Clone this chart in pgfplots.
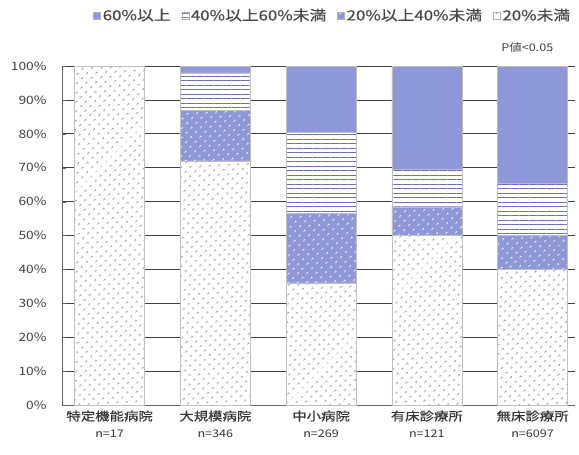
\documentclass[border=0pt]{standalone}
\usepackage{pgfplots}
\pgfplotsset{compat=1.18}
\usetikzlibrary{patterns.meta}
\usepackage{fontspec}
\setmainfont{Noto Sans CJK JP}[FakeStretch=1.2]
\newfontfamily\boldish{Noto Sans CJK JP}[FakeStretch=1.2, FakeBold=0.5]
\definecolor{barblue}{HTML}{8E98D6}
\definecolor{linblue}{HTML}{6770B8}
\begin{document}
\begin{tikzpicture}
\begin{axis}[
  scale only axis, width=513pt, height=339pt,
  ybar stacked, bar width=70pt,
  xmin=-0.45, xmax=4.4, ymin=0, ymax=100,
  xtick=data,
  xticklabels={{特定機能病院\\{\normalfont\fontsize{10.5}{12}\selectfont n=17}},{大規模病院\\{\normalfont\fontsize{10.5}{12}\selectfont n=346}},{中小病院\\{\normalfont\fontsize{10.5}{12}\selectfont n=269}},{有床診療所\\{\normalfont\fontsize{10.5}{12}\selectfont n=121}},{無床診療所\\{\normalfont\fontsize{10.5}{12}\selectfont n=6097}}},
  xticklabel style={align=center, font=\boldish\fontsize{12}{17}\selectfont, text=black!80, yshift=-2pt},
  x tick style={draw=none},
  ytick={0,10,...,100},
  yticklabel={\pgfmathprintnumber{\tick}\%},
  /pgf/number format/assume math mode=true,
  yticklabel style={font=\fontsize{11.5}{12}\selectfont, text=black!75, xshift=-12pt},
  axis x line*=bottom, axis y line*=left,
  axis line style={black!60, line width=0.8pt, -},
  ymajorgrids, major grid style={black!75, line width=0.9pt},
  y tick style={black!60},
  reverse legend,
  legend columns=4,
  legend style={at={(0.055,1.15)}, anchor=west, draw=none, fill=none,
    font=\boldish\fontsize{14}{16}\selectfont, text=black!72,
    /tikz/every even column/.append style={column sep=9pt}},
  legend image code/.code={\draw[#1, draw=black!30] (0pt,-3.5pt) rectangle (7pt,3.5pt);},
  clip=false,
]
\addplot+[fill=white, draw=black!25, postaction={pattern={Dots[distance=6.5pt, radius=1.05pt, angle=45]}, pattern color=black!45}]
  coordinates {(0,100) (1,72) (2,36) (3,50) (4,40)};
\addplot+[fill=barblue, draw=black!25, postaction={pattern={Dots[distance=6.5pt, radius=1.1pt, angle=45]}, pattern color=white}]
  coordinates {(0,0) (1,15) (2,20.5) (3,8.5) (4,10)};
\addplot+[fill=white, draw=black!25, postaction={pattern={Lines[distance=4.5pt, line width=1.3pt]}, pattern color=linblue}]
  coordinates {(0,0) (1,11) (2,24) (3,11) (4,15.5)};
\addplot+[fill=barblue, draw=black!25]
  coordinates {(0,0) (1,2) (2,19.5) (3,30.5) (4,34.5)};
\legend{20\%未満, 20\%以上40\%未満, 40\%以上60\%未満, 60\%以上}
\node[font=\fontsize{10.5}{12}\selectfont, text=black!75] at (axis cs:3.95,100) [yshift=19pt] {P値<0.05};
\path (axis description cs:-0.121,1.195) (axis description cs:1.008,-0.145);
\end{axis}
\end{tikzpicture}
\end{document}
